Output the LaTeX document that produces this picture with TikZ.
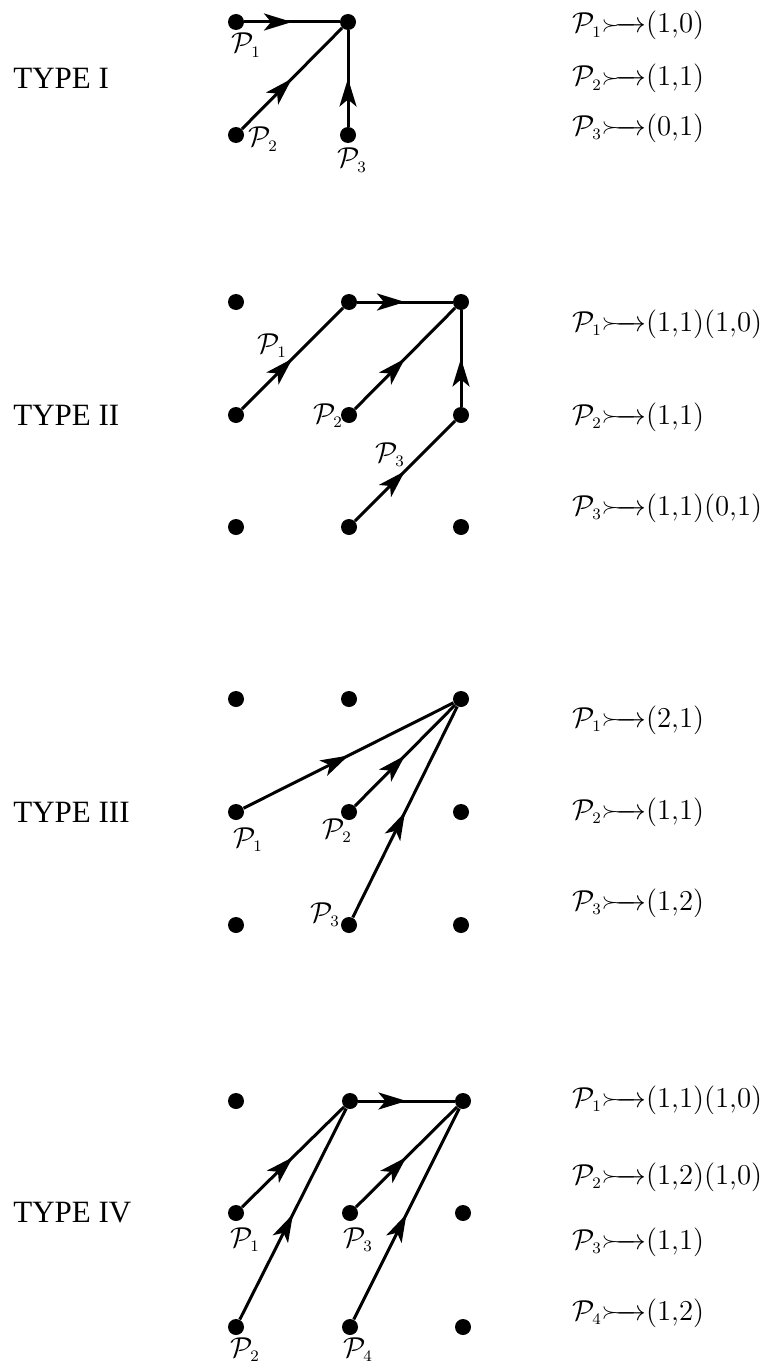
\documentclass[tikz,border=0pt]{standalone}
\usepackage{amsmath,amssymb}
\usepackage{fontspec}
\newfontfamily\typefont{Liberation Serif}
\usetikzlibrary{arrows.meta,decorations.markings}
\newcommand{\tailarrow}{\mathord{\vcenter{\hbox{$\scriptstyle\succ$}}\mkern-8mu\relbar\mkern-12mu\rightarrow}}
\newcommand{\Pc}[1]{\mathcal{P}_{\scriptscriptstyle #1}}
\begin{document}
\begin{tikzpicture}[x=0.5pt,y=-0.5pt,
  dot/.style={circle,fill=black,inner sep=0pt,minimum size=8pt},
  flow/.style={line width=1.5pt,postaction={decorate},
    decoration={markings,mark=at position 0.5 with {\arrow{Stealth[length=14pt,width=8.5pt,inset=3.5pt]}}}},
  typelab/.style={anchor=west,inner sep=0pt,font=\typefont\fontsize{15.5}{18}\selectfont},
  plab/.style={anchor=base west,inner sep=0pt,font=\fontsize{15.2}{18}\selectfont},
  maplab/.style={anchor=base west,inner sep=0pt,font=\fontsize{15.2}{18}\selectfont}]
\useasboundingbox (0,0) rectangle (773,1370);

% ---------- TYPE I ----------
\node[typelab] (tI) at (13,78.5) {TYPE I};
\node[dot] (Ia) at (236,22) {};
\node[dot] (Ib) at (348,22) {};
\node[dot] (Ic) at (236,135) {};
\node[dot] (Id) at (348,135) {};
\draw[flow] (Ia) -- (Ib);
\draw[flow] (Ic) -- (Ib);
\draw[flow] (Id) -- (Ib);
\node[plab] (Ip1) at (231,53) {$\Pc{1}$};
\node[plab] (Ip2) at (248,147) {$\Pc{2}$};
\node[plab] (Ip3) at (337,168) {$\Pc{3}$};
\node[maplab] (Im1) at (572,33) {$\Pc{1}\tailarrow(1{,}0)$};
\node[maplab] (Im2) at (572,86) {$\Pc{2}\tailarrow(1{,}1)$};
\node[maplab] (Im3) at (572,135) {$\Pc{3}\tailarrow(0{,}1)$};

% ---------- TYPE II ----------
\node[typelab] (tII) at (13,415) {TYPE II};
\foreach \n/\x/\y in {a/236/302,b/349/302,c/461/302,d/236/415,e/349/415,f/461/415,g/236/527,h/349/527,i/461/527}
  \node[dot] (II\n) at (\x,\y) {};
\draw[flow] (IId) -- (IIb);
\draw[flow] (IIb) -- (IIc);
\draw[flow] (IIe) -- (IIc);
\draw[flow] (IIh) -- (IIf);
\draw[flow] (IIf) -- (IIc);
\node[plab] (IIp1) at (257,353) {$\Pc{1}$};
\node[plab] (IIp2) at (313,423) {$\Pc{2}$};
\node[plab] (IIp3) at (375,462) {$\Pc{3}$};
\node[maplab] (IIm1) at (572,331) {$\Pc{1}\tailarrow(1{,}1)(1{,}0)$};
\node[maplab] (IIm2) at (572,424) {$\Pc{2}\tailarrow(1{,}1)$};
\node[maplab] (IIm3) at (572,515) {$\Pc{3}\tailarrow(1{,}1)(0{,}1)$};

% ---------- TYPE III ----------
\node[typelab] (tIII) at (13,812) {TYPE III};
\foreach \n/\x/\y in {a/236/699,b/349/699,c/461/699,d/236/812,e/349/812,f/461/812,g/236/925,h/349/925,i/461/925}
  \node[dot] (III\n) at (\x,\y) {};
\draw[flow] (IIId) -- (IIIc);
\draw[flow] (IIIe) -- (IIIc);
\draw[flow] (IIIh) -- (IIIc);
\node[plab] (IIIp1) at (233,847) {$\Pc{1}$};
\node[plab] (IIIp2) at (322,838) {$\Pc{2}$};
\node[plab] (IIIp3) at (310,922) {$\Pc{3}$};
\node[maplab] (IIIm1) at (572,727) {$\Pc{1}\tailarrow(2{,}1)$};
\node[maplab] (IIIm2) at (572,819) {$\Pc{2}\tailarrow(1{,}1)$};
\node[maplab] (IIIm3) at (572,910) {$\Pc{3}\tailarrow(1{,}2)$};

% ---------- TYPE IV ----------
\node[typelab] (tIV) at (13,1213) {TYPE IV};
\foreach \n/\x/\y in {a/236/1101,b/350/1101,c/463/1101,d/236/1213,e/350/1213,f/463/1213,g/236/1327,h/350/1327,i/463/1327}
  \node[dot] (IV\n) at (\x,\y) {};
\draw[flow] (IVd) -- (IVb);
\draw[flow] (IVg) -- (IVb);
\draw[flow] (IVb) -- (IVc);
\draw[flow] (IVe) -- (IVc);
\draw[flow] (IVh) -- (IVc);
\node[plab] (IVp1) at (230,1247) {$\Pc{1}$};
\node[plab] (IVp2) at (230,1357) {$\Pc{2}$};
\node[plab] (IVp3) at (343,1247) {$\Pc{3}$};
\node[plab] (IVp4) at (343,1357) {$\Pc{4}$};
\node[maplab] (IVm1) at (572,1107) {$\Pc{1}\tailarrow(1{,}1)(1{,}0)$};
\node[maplab] (IVm2) at (572,1184) {$\Pc{2}\tailarrow(1{,}2)(1{,}0)$};
\node[maplab] (IVm3) at (572,1249) {$\Pc{3}\tailarrow(1{,}1)$};
\node[maplab] (IVm4) at (572,1320) {$\Pc{4}\tailarrow(1{,}2)$};
\end{tikzpicture}
\end{document}
